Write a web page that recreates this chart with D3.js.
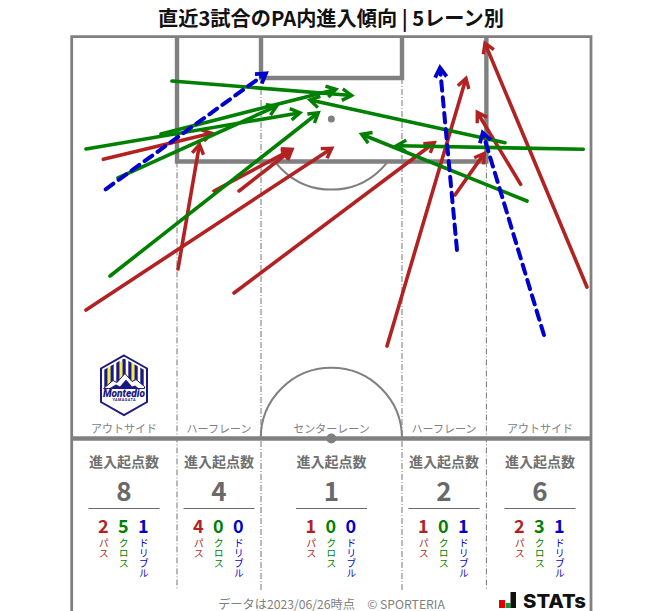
<!DOCTYPE html>
<html><head><meta charset="utf-8">
<script src="https://cdn.jsdelivr.net/npm/d3@7"></script>
<style>html,body{margin:0;padding:0;background:#fff}svg{display:block}text{font-family:"Noto Sans CJK JP","Noto Sans",sans-serif}</style>
</head><body><svg id="c" width="663" height="611"></svg>
<script>
const titleText = "直近3試合のPA内進入傾向 | 5レーン別";
const laneNames = ["アウトサイド","ハーフレーン","センターレーン","ハーフレーン","アウトサイド"];
const laneEdges = [0,13.79,24.79,43.25,54.3,68];
const totals = [8,4,1,2,6];
const passCounts = [2,4,1,1,2];
const crossCounts = [5,0,0,0,3];
const dribbleCounts = [1,0,0,1,1];
const kindNames = ["パス","クロス","ドリブル"];
// [fromX, fromY, toX, toY] in metres: X across the pitch, Y from the goal line
const passes = [
 [4.14,16.02,18.33,12.62],[1.87,35.71,34.05,14.58],[13.92,30.35,16.73,14.09],[18.63,20.16,28.81,14.71],[21.91,20.16,28.81,14.8],
 [21.25,33.49,47.48,13.85],[41.29,40.42,51.63,5.44],[50.19,20.68,54.03,15.24],[58.79,19.29,53.11,9.88],[67.47,32.71,54.12,0.86]];
const crosses = [
 [13.13,5.79,36.66,7.67],[1.87,14.67,29.89,9.94],[11.69,12.71,34.61,6.87],[6.06,18.46,26.84,9.06],[5.02,31.27,32.29,9.93],
 [56.74,13.85,31.2,8.27],[66.99,14.71,42.56,14.24],[59.62,21.47,37.97,12.75]];
const dribbles = [[4.45,19.94,25.44,4.78],[50.45,27.87,48.23,4.05],[61.84,38.98,53.82,12.54]];

const sx = d3.scaleLinear().domain([0,68]).range([71.7,591]);
const sy = d3.scaleLinear().domain([0,52.5]).range([36.7,438.5]);
const svg = d3.select("#c");
const grey = "#808080";
const laneC = sx(34);

svg.append("text").attr("x",331).attr("y",26).attr("text-anchor","middle").attr("font-size",20.2).attr("font-weight",700).attr("fill","#111").text(titleText);

const defs = svg.append("defs");
defs.append("clipPath").attr("id","below").append("rect").attr("x",72).attr("y",sy(16.3)).attr("width",518).attr("height",120);
const pitch = svg.append("g").attr("fill","none");
laneEdges.slice(1,5).forEach((e,i)=>{
  const top = (i===1||i===2)? sy(5.4) : sy(16.3);
  pitch.append("line").attr("x1",sx(e)).attr("x2",sx(e)).attr("y1",top).attr("y2",590).attr("stroke","#777").attr("stroke-width",1).attr("stroke-dasharray","6 2 1 2");
});
pitch.append("path").attr("d",`M${sx(0)},611V${sy(0)}H${sx(68)}V611`).attr("stroke",grey).attr("stroke-width",2.8);
pitch.append("line").attr("x1",sx(0)).attr("x2",sx(68)).attr("y1",sy(52.5)).attr("y2",sy(52.5)).attr("stroke",grey).attr("stroke-width",4.4);
pitch.append("path").attr("d",`M${sx(13.79)},${sy(0)}V${sy(16.3)}H${sx(54.3)}V${sy(0)}`).attr("stroke",grey).attr("stroke-width",4.4);
pitch.append("path").attr("d",`M${sx(24.79)},${sy(0)}V${sy(5.4)}H${sx(43.25)}V${sy(0)}`).attr("stroke",grey).attr("stroke-width",4.4);
const r = sx(43.25)-sx(34);
pitch.append("circle").attr("cx",laneC).attr("cy",sy(10.75)).attr("r",r).attr("stroke",grey).attr("stroke-width",2).attr("clip-path","url(#below)");
pitch.append("circle").attr("cx",laneC).attr("cy",sy(10.75)).attr("r",3.5).attr("fill",grey);
pitch.append("path").attr("d",d3.arc()({innerRadius:r,outerRadius:r,startAngle:-Math.PI/2,endAngle:Math.PI/2})).attr("transform",`translate(${laneC},${sy(52.5)})`).attr("stroke",grey).attr("stroke-width",2);
pitch.append("circle").attr("cx",laneC).attr("cy",sy(52.5)).attr("r",5).attr("fill",grey);

const centers = [124,219,331.5,444,540];
const kindColours = ["#b22222","#008000","#0000cd"];
laneNames.forEach((n,i)=>{
  const c = centers[i];
  const g = svg.append("g");
  g.append("text").attr("x",c).attr("y",432.5).attr("text-anchor","middle").attr("font-size",11).attr("fill","#808080").text(n);
  g.append("text").attr("x",c).attr("y",467).attr("text-anchor","middle").attr("font-size",14).attr("font-weight",700).attr("fill","#707070").text("進入起点数");
  g.append("text").attr("x",c).attr("y",501).attr("text-anchor","middle").attr("font-size",26).attr("font-weight",700).attr("fill","#696969").text(totals[i]);
  g.append("line").attr("x1",c-35.5).attr("x2",c+35.5).attr("y1",508.5).attr("y2",508.5).attr("stroke","#696969").attr("stroke-width",1);
  [passCounts,crossCounts,dribbleCounts].forEach((arr,k)=>{
    const x = c-20.7+20*k;
    g.append("text").attr("x",x).attr("y",533).attr("text-anchor","middle").attr("font-size",18).attr("font-weight",700).attr("fill",kindColours[k]).text(arr[i]);
    g.append("text").attr("x",x+0.5).attr("y",538).attr("font-size",10).attr("fill",kindColours[k]).attr("style","writing-mode:vertical-rl;text-orientation:upright").attr("text-anchor","start").text(kindNames[k]);
  });
});

function drawArrow(layer,d,colour,dash){
  const [x1,y1,x2,y2]=[sx(d[0]),sy(d[1]),sx(d[2]),sy(d[3])];
  const a=Math.atan2(y2-y1,x2-x1), L=11, t=0.55, w=dash?4:3.6;
  layer.append("line").attr("x1",x1).attr("y1",y1).attr("x2",x2-Math.cos(a)*2.5).attr("y2",y2-Math.sin(a)*2.5).attr("stroke",colour).attr("stroke-width",w).attr("stroke-linecap","round").attr("stroke-dasharray",dash||null);
  const p=[[x2-L*Math.cos(a-t),y2-L*Math.sin(a-t)],[x2,y2],[x2-L*Math.cos(a+t),y2-L*Math.sin(a+t)]];
  layer.append("path").attr("d",d3.line()(p)).attr("fill","none").attr("stroke",colour).attr("stroke-width",w-0.2).attr("stroke-linejoin","miter");
}
const arrows = svg.append("g");
passes.forEach(d=>drawArrow(arrows,d,"#b22222"));
crosses.forEach(d=>drawArrow(arrows,d,"#008000"));
dribbles.forEach(d=>drawArrow(arrows,d,"#0000cd","9.5 6.5"));

// logo
const navy = "#1c1a80";
const lg = svg.append("g").attr("transform","translate(124,385.5)");
lg.append("path").attr("d","M0,-30L23,-17V16.5L0,29.5L-23,16.5V-17Z").attr("fill","#fff").attr("stroke",navy).attr("stroke-width",2);
defs.append("clipPath").attr("id","hexIn").append("path").attr("d","M0,-27L20.5,-15.5V2H-20.5V-15.5Z");
const st0 = lg.append("g").attr("clip-path","url(#hexIn)");
[-18,-12,-6,0,6,12,18].forEach(x=>st0.append("rect").attr("x",x-1.7).attr("y",-28).attr("width",3.4).attr("height",30).attr("fill",navy));
[-15,-3,9].forEach(x=>st0.append("rect").attr("x",x-1.3).attr("y",-24).attr("width",2.6).attr("height",24).attr("fill","#f5ee3c"));
lg.append("path").attr("d","M-20.5,3L-11,-5L-7,-3L1,-12L8,-4L12,-6L20.5,1V3Z").attr("fill","#fff").attr("stroke",navy).attr("stroke-width",1);
lg.append("path").attr("d","M-15,3L-8,-1L-4,1L2,-6L8,1L11,0L15,3Z").attr("fill",navy);
lg.append("text").attr("y",11).attr("text-anchor","middle").attr("font-size",10).attr("font-weight",900).attr("font-style","italic").attr("style","font-family:Roboto").attr("textLength",42).attr("lengthAdjust","spacingAndGlyphs").attr("fill",navy).text("Montedio");
lg.append("text").attr("y",15.5).attr("text-anchor","middle").attr("font-size",3.8).attr("font-weight",700).attr("style","font-family:Roboto").attr("textLength",23).attr("lengthAdjust","spacing").attr("fill",navy).text("YAMAGATA");

// footer
svg.append("text").attr("x",331.5).attr("y",608.5).attr("text-anchor","middle").attr("font-size",12.2).attr("fill","#808080").text("データは2023/06/26時点　© SPORTERIA");
const st = svg.append("g");
st.append("rect").attr("x",499).attr("y",600).attr("width",6).attr("height",8).attr("fill","#e00000");
st.append("rect").attr("x",505.5).attr("y",603).attr("width",5).attr("height",5).attr("fill","#0a9a3c");
st.append("rect").attr("x",510.5).attr("y",592).attr("width",5.5).attr("height",16).attr("fill","#111");
st.append("text").attr("x",523).attr("y",607.5).attr("font-size",19).attr("font-weight",800).attr("style","font-family:Inter").attr("fill","#111").attr("textLength",63).attr("lengthAdjust","spacingAndGlyphs").text("STATs");
</script></body></html>
